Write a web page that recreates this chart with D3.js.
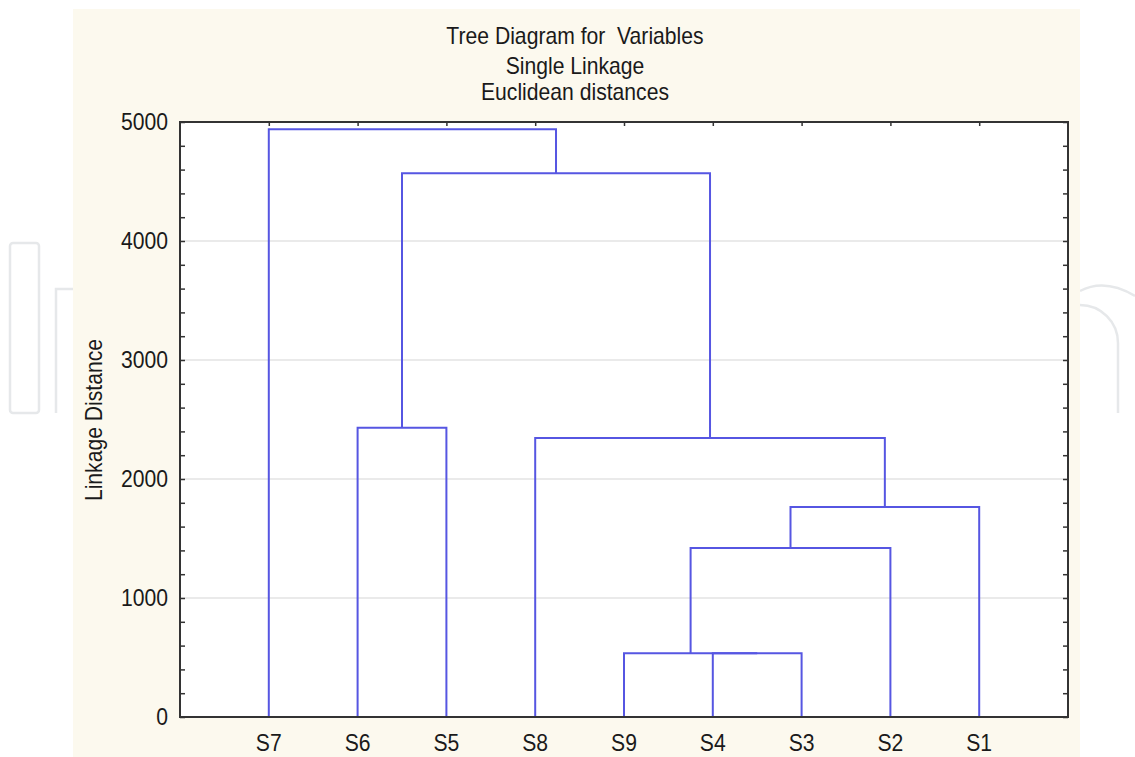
<!DOCTYPE html>
<html>
<head>
<meta charset="utf-8">
<script src="https://cdn.jsdelivr.net/npm/d3@7"></script>
<style>
  html, body { margin: 0; padding: 0; background: #ffffff; }
  svg { display: block; }
  text { font-family: "Liberation Sans", Arial, sans-serif; fill: #1a1a1a; white-space: pre; }
</style>
</head>
<body>
<svg id="chart" width="1135" height="757"></svg>
<script>
// ---- data ----
const titleLines = ["Tree Diagram for  Variables", "Single Linkage", "Euclidean distances"];
const yLabel = "Linkage Distance";
const leaves = ["S7", "S6", "S5", "S8", "S9", "S4", "S3", "S2", "S1"];
// merges: [left member, right member, linkage distance]; new clusters are named C1, C2, ...
const merges = [
  ["S4", "S3", 535],
  ["S9", "C1", 535],
  ["C2", "S2", 1420],
  ["C3", "S1", 1765],
  ["S8", "C4", 2345],
  ["S6", "S5", 2430],
  ["C6", "C5", 4570],
  ["S7", "C7", 4940]
];
const yTicks = [0, 1000, 2000, 3000, 4000, 5000];
const yMinorTicks = d3.range(0, 5001, 200);

// ---- layout ----
const W = 1135, H = 757;
const plot = { left: 180, right: 1068, top: 122, bottom: 717 };
const FS = 23, SX = 0.92;
const svg = d3.select("#chart");

const x = d3.scalePoint().domain(leaves).range([plot.left, plot.right]).padding(1);
const y = d3.scaleLinear().domain([0, 5000]).range([plot.bottom, plot.top]);

// watermark (faint, mostly hidden by the panel)
const wm = svg.append("g").attr("fill", "none").attr("stroke", "#e6e8ea").attr("stroke-width", 2.5);
wm.append("rect").attr("x", 10).attr("y", 243).attr("width", 29).attr("height", 170).attr("rx", 3);
wm.append("path").attr("d", "M56,413 V289 H90");
wm.append("path").attr("d", "M1080,291 Q1105,278 1135,296");
wm.append("path").attr("d", "M1080,305 A38,38 0 0 1 1118,343 V413");

// panel
svg.append("rect").attr("x", 73).attr("y", 9).attr("width", 1080 - 73).attr("height", H - 9)
  .attr("fill", "#fcf9ee");
svg.append("rect").attr("x", plot.left).attr("y", plot.top)
  .attr("width", plot.right - plot.left).attr("height", plot.bottom - plot.top)
  .attr("fill", "#ffffff");

// grid
svg.append("g").selectAll("line").data(yTicks.filter(d => d > 0 && d < 5000)).join("line")
  .attr("x1", plot.left).attr("x2", plot.right)
  .attr("y1", d => y(d)).attr("y2", d => y(d))
  .attr("stroke", "#e3e3e3").attr("stroke-width", 1.5);

// title
svg.append("g").selectAll("text").data(titleLines).join("text")
  .attr("transform", (d, i) => `translate(575,${[44, 74, 100][i]}) scale(${SX},1)`)
  .attr("text-anchor", "middle").attr("font-size", FS).text(d => d);

// dendrogram
const pos = {};
leaves.forEach(l => { pos[l] = { x: x(l), h: 0 }; });
const links = merges.map((m, i) => {
  const a = pos[m[0]], b = pos[m[1]];
  const node = { x: (a.x + b.x) / 2, h: m[2] };
  pos["C" + (i + 1)] = node;
  return { a, b, h: m[2] };
});
svg.append("g").selectAll("path").data(links).join("path")
  .attr("d", d => `M${d.a.x},${y(d.a.h)} V${y(d.h)} H${d.b.x} V${y(d.b.h)}`)
  .attr("fill", "none").attr("stroke", "#5656e2").attr("stroke-width", 2);

// tick marks (inside the frame)
const gL = svg.append("g").attr("transform", `translate(${plot.left},0)`)
  .call(d3.axisRight(y).tickValues(yMinorTicks).tickSize(5).tickFormat(""));
const gR = svg.append("g").attr("transform", `translate(${plot.right},0)`)
  .call(d3.axisLeft(y).tickValues(yMinorTicks).tickSize(5).tickFormat(""));
const gT = svg.append("g").attr("transform", `translate(0,${plot.top})`)
  .call(d3.axisBottom(x).tickSize(4).tickFormat(""));
[gL, gR, gT].forEach(g => {
  g.select(".domain").remove();
  g.selectAll(".tick line").attr("stroke", "#333").attr("stroke-width", 1.5);
});

// y tick labels
svg.append("g").selectAll("text").data(yTicks).join("text")
  .attr("transform", d => `translate(${plot.left - 12},${y(d) + 8}) scale(${SX},1)`)
  .attr("text-anchor", "end").attr("font-size", FS).text(d => d3.format("d")(d));

// leaf labels
svg.append("g").selectAll("text").data(leaves).join("text")
  .attr("transform", d => `translate(${x(d)},${plot.bottom + 34}) scale(${SX},1)`)
  .attr("text-anchor", "middle").attr("font-size", FS).text(d => d);

// frame
svg.append("rect").attr("x", plot.left).attr("y", plot.top)
  .attr("width", plot.right - plot.left).attr("height", plot.bottom - plot.top)
  .attr("fill", "none").attr("stroke", "#333").attr("stroke-width", 2);

// y axis title
svg.append("text").attr("transform", `translate(102,420) rotate(-90) scale(${SX},1)`)
  .attr("text-anchor", "middle").attr("font-size", FS).text(yLabel);
</script>
</body>
</html>
